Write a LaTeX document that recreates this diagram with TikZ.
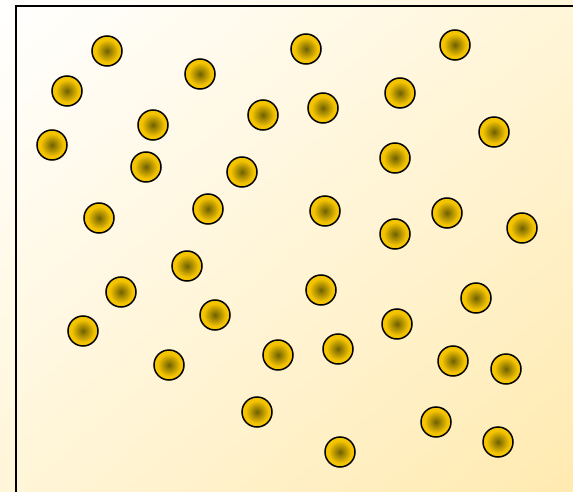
\documentclass[tikz,border=0pt]{standalone}
\usetikzlibrary{shadings}
\definecolor{bgY}{RGB}{255,234,176}
\definecolor{bgM}{RGB}{255,245,216}
\definecolor{ballIn}{RGB}{110,96,0}
\definecolor{ballOut}{RGB}{245,196,0}
\pgfdeclareradialshading{ballshade}{\pgfpoint{0bp}{0bp}}{color(0bp)=(ballIn); color(19bp)=(ballOut); color(25bp)=(ballOut); color(50bp)=(ballOut)}
\tikzset{
  ball/.style={circle, draw=black, line width=1.5pt, minimum size=30pt, inner sep=0pt,
    shading=ballshade},
  frame/.style={draw=black, line width=1.6pt}
}
\begin{document}
\begin{tikzpicture}[x=1pt,y=-1pt]
\useasboundingbox (0,0) rectangle (573,492);
\clip (0,0) rectangle (573,492);
\shade[upper left=white, lower right=bgY, upper right=bgM, lower left=bgM] (0,0) rectangle (573,492);
\draw[frame] (16,6) rectangle (590,510);
\foreach \n/\x/\y in {1/107/51, 2/67/91, 3/52/145, 4/153/125, 5/146/167, 6/200/74,
  7/263/115, 8/306/49, 9/323/108, 10/242/172, 11/208/209, 12/99/218, 13/187/266,
  14/121/292, 15/83/331, 16/215/315, 17/169/365, 18/278/355, 19/257/412, 20/340/452,
  21/338/349, 22/321/290, 23/325/211, 24/395/234, 25/395/158, 26/400/93, 27/455/45,
  28/494/132, 29/447/213, 30/522/228, 31/476/298, 32/397/324, 33/453/361, 34/506/369,
  35/436/422, 36/498/442}
  \node[ball, shade] (b\n) at (\x,\y) {};
\end{tikzpicture}
\end{document}
